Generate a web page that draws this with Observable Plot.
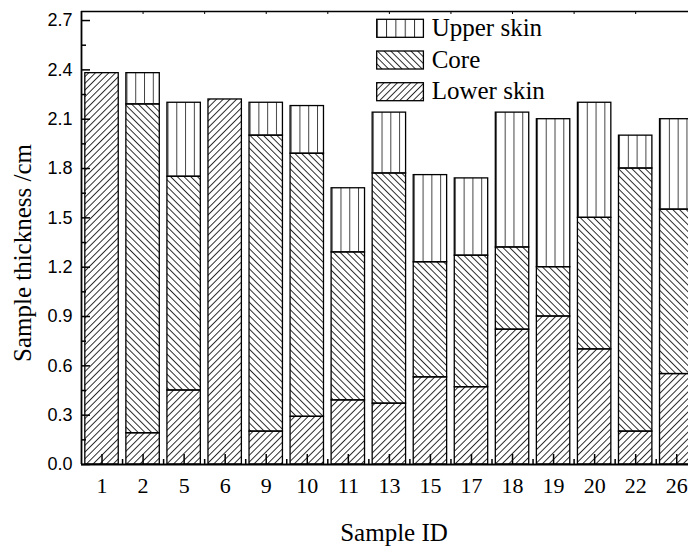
<!DOCTYPE html>
<html>
<head>
<meta charset="utf-8">
<script src="https://cdn.jsdelivr.net/npm/d3@7"></script>
<script src="https://cdn.jsdelivr.net/npm/@observablehq/plot@0.6"></script>
<style>
html,body{margin:0;padding:0;background:#fff;overflow:hidden;}
#wrap{position:relative;width:688px;height:548px;}
#legend{position:absolute;left:370px;top:10px;overflow:visible;}
</style>
</head>
<body>
<svg width="0" height="0" style="position:absolute">
  <defs>
    <pattern id="hLower" patternUnits="userSpaceOnUse" width="4.74" height="10" patternTransform="rotate(45)">
      <line x1="0.5" y1="-1" x2="0.5" y2="11" stroke="#111" stroke-width="0.9"/>
    </pattern>
    <pattern id="hCore" patternUnits="userSpaceOnUse" width="4.74" height="10" patternTransform="rotate(-45)">
      <line x1="0.5" y1="-1" x2="0.5" y2="11" stroke="#111" stroke-width="0.9"/>
    </pattern>
    <pattern id="hUpper" patternUnits="objectBoundingBox" x="0.28" y="0" width="0.263" height="1">
      <line x1="0.5" y1="0" x2="0.5" y2="1000" stroke="#444" stroke-width="1"/>
    </pattern>
    <pattern id="lgUpper" patternUnits="userSpaceOnUse" x="0" y="0" width="9.34" height="20">
      <line x1="0.5" y1="-1" x2="0.5" y2="21" stroke="#333" stroke-width="1"/>
    </pattern>
  </defs>
</svg>
<div id="wrap"></div>
<script>
// ---- data ----
const sampleIds = ["1","2","5","6","9","10","11","13","15","17","18","19","20","22","26"];
const lowerSkin = [2.38,0.19,0.45,2.22,0.20,0.29,0.39,0.37,0.53,0.47,0.82,0.90,0.70,0.20,0.55];
const coreLayer = [0,2.00,1.30,0,1.80,1.60,0.90,1.40,0.70,0.80,0.50,0.30,0.80,1.60,1.00];
const upperSkin = [0,0.19,0.45,0,0.20,0.29,0.39,0.37,0.53,0.47,0.82,0.90,0.70,0.20,0.55];
const yTickValues = [0,0.3,0.6,0.9,1.2,1.5,1.8,2.1,2.4,2.7];
const seriesNames = ["Upper skin","Core","Lower skin"];

// ---- layout ----
const W = 688, H = 548;
const mTop = 11, mBottom = 84, mLeft = 81, mRight = 0;
const plotH = H - mTop - mBottom, plotW = W - mLeft - mRight;
const yMax = 2.755;
const halfBar = 0.407;

const layers = [
  {name: "Lower skin", vals: lowerSkin, fill: "url(#hLower)"},
  {name: "Core", vals: coreLayer, fill: "url(#hCore)"},
  {name: "Upper skin", vals: upperSkin, fill: "url(#hUpper)"}
];
const rows = [];
sampleIds.forEach((id, i) => {
  let acc = 0;
  layers.forEach(L => {
    const v = L.vals[i];
    if (v > 0) rows.push({pos: i + 1, id, layer: L.name, y1: acc, y2: acc + v});
    acc += v;
  });
});

const positions = sampleIds.map((d, i) => i + 1);
const minorX = sampleIds.map((d, i) => i + 1.5).slice(0, -1);
const topTicks = d3.range(0.5, 15.3, 1.5);
const minorY = yTickValues.slice(0, -1).map(v => v + 0.15);

const serif = "'Liberation Serif','Times New Roman',serif";
const sans = "'Liberation Sans',Arial,sans-serif";

const barMarks = layers.map(L => Plot.rect(rows.filter(r => r.layer === L.name), {
  x1: d => d.pos - halfBar, x2: d => d.pos + halfBar,
  y1: "y1", y2: "y2",
  fill: L.fill, stroke: "#000", strokeWidth: 1.3, clip: true
}));

const chart = Plot.plot({
  width: W, height: H,
  marginTop: mTop, marginBottom: mBottom, marginLeft: mLeft, marginRight: mRight,
  style: {background: "#fff", color: "#000"},
  x: {type: "linear", domain: [0.5, 0.5 + plotW / 41.05], axis: null},
  y: {domain: [0, yMax], axis: null},
  marks: [
    ...barMarks,
    // frame lines
    Plot.ruleY([yMax], {stroke: "#000", strokeWidth: 1.5}),
    Plot.ruleY([0], {stroke: "#000", strokeWidth: 2}),
    Plot.ruleX([0.5], {stroke: "#000", strokeWidth: 1.8}),
    // bottom ticks (inward)
    Plot.tickX(positions, {x: d => d, insetTop: plotH - 10, stroke: "#000", strokeWidth: 1.5}),
    Plot.tickX(minorX, {x: d => d, insetTop: plotH - 5, stroke: "#000", strokeWidth: 1.5}),
    // top ticks
    Plot.tickX(topTicks, {x: d => d, insetBottom: plotH - 3, stroke: "#000", strokeWidth: 1}),
    // left ticks
    Plot.tickY(yTickValues, {y: d => d, insetRight: plotW - 9, stroke: "#000", strokeWidth: 1.5}),
    Plot.tickY(minorY, {y: d => d, insetRight: plotW - 5, stroke: "#000", strokeWidth: 1.5}),
    // tick labels
    Plot.axisX(positions, {anchor: "bottom", tickSize: 0, tickPadding: 13, tickFormat: d => sampleIds[d - 1],
      fontSize: 22, fontFamily: serif, label: null}),
    Plot.axisY(yTickValues, {anchor: "left", tickSize: 0, tickPadding: 9, tickFormat: d => d.toFixed(1),
      fontSize: 18, fontFamily: sans, label: null}),
    // axis titles
    Plot.text(["Sample ID"], {text: d => d, frameAnchor: "bottom", dx: 9, dy: 59, lineAnchor: "top",
      fontSize: 25, fontFamily: serif}),
    Plot.text(["Sample thickness /cm"], {text: d => d, frameAnchor: "left", rotate: -90, dx: -59, dy: 15,
      lineAnchor: "middle", textAnchor: "middle", fontSize: 25, fontFamily: serif})
  ]
});
document.getElementById("wrap").appendChild(chart);

// ---- legend overlay ----
const legendFills = {"Upper skin": "url(#lgUpper)", "Core": "url(#hCore)", "Lower skin": "url(#hLower)"};
const lg = d3.select("#wrap").append("svg").attr("id", "legend").attr("width", 240).attr("height", 100);
seriesNames.forEach((name, i) => {
  const g = lg.append("g").attr("transform", `translate(6.7,${9.3 + i * 31.7})`);
  g.append("rect").attr("x", 0).attr("y", 0).attr("width", 46.7).attr("height", 18)
    .attr("fill", legendFills[name]).attr("stroke", "#000").attr("stroke-width", 1.3);
  g.append("text").attr("x", 55).attr("y", 16.5)
    .attr("font-family", "Liberation Serif, Times New Roman, serif").attr("font-size", 25)
    .attr("fill", "#000").text(name);
});
</script>
</body>
</html>
